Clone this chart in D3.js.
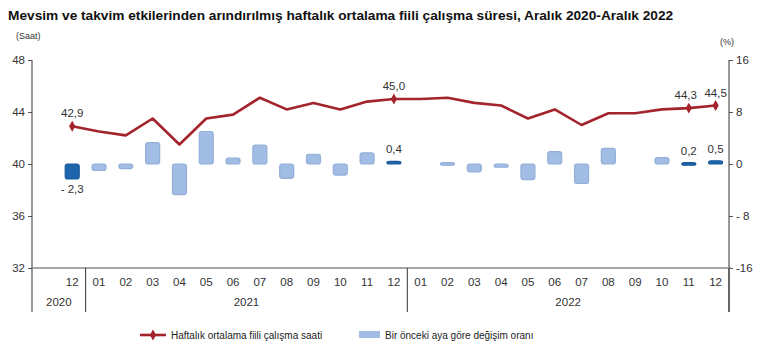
<!DOCTYPE html>
<html><head><meta charset="utf-8">
<script src="https://cdn.jsdelivr.net/npm/d3@7/dist/d3.min.js"></script>
<style>body{margin:0;background:#fff}svg{display:block;font-family:"Liberation Sans",Arial,sans-serif}</style>
</head><body><svg id="c" width="770" height="351"></svg>
<script>
const months = ["12","01","02","03","04","05","06","07","08","09","10","11","12","01","02","03","04","05","06","07","08","09","10","11","12"];
const years = [{label:"2020",from:0,to:1},{label:"2021",from:1,to:13},{label:"2022",from:13,to:25}];
const hours = [42.9,42.5,42.2,43.5,41.5,43.5,43.8,45.1,44.2,44.7,44.2,44.8,45.0,45.0,45.1,44.7,44.5,43.5,44.2,43.0,43.9,43.9,44.2,44.3,44.5];
const changes = [-2.3,-1.0,-0.7,3.3,-4.7,5.0,0.9,2.9,-2.2,1.5,-1.7,1.7,0.4,0,0.2,-1.2,-0.5,-2.4,1.9,-3.0,2.4,0,1.0,0.2,0.5];
const highlight = [0,12,23,24];
const leftTicks = [32,36,40,44,48];
const rightTicks = [-16,-8,0,8,16];
const title = "Mevsim ve takvim etkilerinden arındırılmış haftalık ortalama fiili çalışma süresi, Aralık 2020-Aralık 2022";

const svg = d3.select("#c");
const L=32, R=729, T=60, B=268;
const keys = ["blank"].concat(months.map((m,i)=>"k"+i));
const x = d3.scaleBand().domain(keys).range([L,R]).paddingInner(0).paddingOuter(0);
const xc = i => x("k"+i)+x.bandwidth()/2;
const yL = d3.scaleLinear().domain([32,48]).range([B,T]);
const yR = d3.scaleLinear().domain([-16,16]).range([B,T]);
const fmt = v => (v<0?"- ":"")+d3.format(".1f")(Math.abs(v)).replace(".",",");

svg.append("text").attr("x",8).attr("y",20).attr("font-size",13.7).attr("font-weight","bold").attr("fill","#111").text(title);
svg.append("text").attr("x",16).attr("y",39).attr("font-size",9).attr("fill","#333").text("(Saat)");
svg.append("text").attr("x",720).attr("y",45).attr("font-size",9).attr("fill","#333").text("(%)");

// left axis
const la = svg.append("g").attr("transform",`translate(${L},0)`).call(d3.axisLeft(yL).tickValues(leftTicks).tickSize(4).tickFormat(d3.format("d")));
la.select(".domain").remove();
la.selectAll("line").attr("stroke","#555");
la.selectAll("text").attr("font-size",11.5).attr("fill","#333").attr("font-family","Liberation Sans, Arial");
svg.append("line").attr("x1",L).attr("x2",L).attr("y1",T).attr("y2",312).attr("stroke","#333").attr("stroke-width",1);

// right axis
const ra = svg.append("g").attr("transform",`translate(${R},0)`).call(d3.axisRight(yR).tickValues(rightTicks).tickSize(4).tickFormat(d=>d<0&&d>-10?"- "+(-d):String(d)));
ra.select(".domain").remove();
ra.selectAll("line").attr("stroke","#555");
ra.selectAll("text").attr("font-size",11.5).attr("fill","#333").attr("font-family","Liberation Sans, Arial");
svg.append("line").attr("x1",R).attr("x2",R).attr("y1",T).attr("y2",312).attr("stroke","#333").attr("stroke-width",1);

// x axis line
svg.append("line").attr("x1",L).attr("x2",R+2).attr("y1",B).attr("y2",B).attr("stroke","#888").attr("stroke-width",1.5);

// month labels
svg.append("g").selectAll("text").data(months).join("text")
 .attr("x",(d,i)=>xc(i)).attr("y",286).attr("text-anchor","middle").attr("font-size",11.5).attr("fill","#333").text(d=>d);
// year separators & labels
years.forEach(yv=>{
  const x0 = x("k"+yv.from), x1 = yv.to<25 ? x("k"+yv.to) : R;
  const sx = yv.from===0 ? L : x0;
  svg.append("line").attr("x1",x1).attr("x2",x1).attr("y1",B).attr("y2",312).attr("stroke","#333");
  svg.append("text").attr("x",(sx+x1)/2).attr("y",306).attr("text-anchor","middle").attr("font-size",11.5).attr("fill","#333").text(yv.label);
});

// bars
const bw = 14;
svg.append("g").selectAll("rect").data(changes).join("rect")
 .attr("x",(d,i)=>xc(i)-bw/2)
 .attr("y",d=>d===0?yR(0):Math.min(yR(0),yR(d)))
 .attr("width",bw)
 .attr("height",d=>d===0?0:Math.max(2.5,Math.abs(yR(d)-yR(0))))
 .attr("rx",2.5)
 .attr("fill",(d,i)=>highlight.includes(i)?"#1d64ad":"#a2bde3")
 .attr("stroke",(d,i)=>highlight.includes(i)?"#1a5a9c":"#93afd8")
 .attr("stroke-width",1.2)
 .attr("display",d=>d===0?"none":null);

// line
const line = d3.line().x((d,i)=>xc(i)).y(d=>yL(d));
svg.append("path").datum(hours).attr("d",line).attr("fill","none").attr("stroke","#a3242c").attr("stroke-width",2.6).attr("stroke-linejoin","round");
const dia = d3.symbol().type(d3.symbolDiamond).size(34);
svg.append("g").selectAll("path").data(highlight).join("path")
 .attr("transform",i=>`translate(${xc(i)},${yL(hours[i])})`).attr("d",dia).attr("fill","#a3242c");

// labels
highlight.forEach(i=>{
  svg.append("text").attr("x",xc(i)+(i===23?-3:0)).attr("y",yL(hours[i])-9).attr("text-anchor","middle").attr("font-size",11.5).attr("fill","#333").text(fmt(hours[i]));
  const c = changes[i];
  const yy = c<0 ? yR(c)+14 : yR(c)-8;
  svg.append("text").attr("x",xc(i)).attr("y",yy).attr("text-anchor","middle").attr("font-size",11.5).attr("fill","#333").text(fmt(c));
});

// legend
svg.append("line").attr("x1",140).attr("x2",166).attr("y1",335).attr("y2",335).attr("stroke","#a3242c").attr("stroke-width",2.6);
svg.append("path").attr("transform","translate(153,335)").attr("d",dia).attr("fill","#a3242c");
svg.append("text").attr("x",171).attr("y",339).attr("font-size",10).attr("fill","#222").text("Haftalık ortalama fiili çalışma saati");
svg.append("rect").attr("x",359).attr("y",331).attr("width",21).attr("height",7).attr("fill","#a2bde3");
svg.append("text").attr("x",385).attr("y",339).attr("font-size",10).attr("fill","#222").text("Bir önceki aya göre değişim oranı");
</script></body></html>
